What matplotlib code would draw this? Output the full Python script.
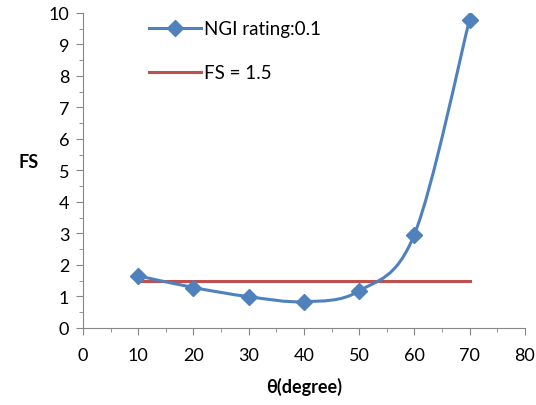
import numpy as np
import matplotlib
matplotlib.use("Agg")
import matplotlib.pyplot as plt
from matplotlib.path import Path
from matplotlib.patches import PathPatch
from matplotlib.lines import Line2D

theta = [10, 20, 30, 40, 50, 60, 70]
fs_values = [1.65, 1.28, 0.99, 0.83, 1.17, 2.96, 9.78]
fs_limit = 1.5
series_label = "NGI rating:0.1"
limit_label = "FS = 1.5"
xticks = [0, 10, 20, 30, 40, 50, 60, 70, 80]
yticks = list(range(0, 11))

plt.rcParams['font.family'] = ['Lato', 'DejaVu Sans']

fig = plt.figure(figsize=(5.36, 4.06), dpi=100)
ax = fig.add_axes([0.155, 0.19, 0.824, 0.776])

blue = '#4F81BD'
red = '#C0504D'

# Excel-style smoothed line (Catmull-Rom as cubic Bezier)
x = np.array(theta, float)
y = np.array(fs_values, float)
n = len(x)
verts = [(x[0], y[0])]
codes = [Path.MOVETO]
for i in range(n - 1):
    p0 = np.array([x[max(i - 1, 0)], y[max(i - 1, 0)]])
    p1 = np.array([x[i], y[i]])
    p2 = np.array([x[i + 1], y[i + 1]])
    p3 = np.array([x[min(i + 2, n - 1)], y[min(i + 2, n - 1)]])
    c1 = p1 + (p2 - p0) / 6.0
    c2 = p2 - (p3 - p1) / 6.0
    verts += [tuple(c1), tuple(c2), tuple(p2)]
    codes += [Path.CURVE4] * 3
ax.add_patch(PathPatch(Path(verts, codes), facecolor='none', edgecolor=blue, lw=2.2, zorder=3))
ax.plot(theta, fs_values, linestyle='none', marker='D', markersize=8, color=blue, zorder=4)

ax.plot([theta[0], theta[-1]], [fs_limit, fs_limit], color=red, lw=2.2, zorder=2)

ax.set_xlim(0, 80)
ax.set_ylim(0, 10)
ax.set_xticks(xticks)
ax.set_yticks(yticks)
ax.set_xticks(np.arange(0, 81, 5), minor=True)
ax.set_yticks(np.arange(0, 10.01, 0.5), minor=True)
ax.tick_params(axis='both', which='both', direction='out', color='#868686', labelsize=13)
ax.tick_params(axis='x', which='major', pad=9)
ax.tick_params(axis='y', which='major', pad=5)
ax.tick_params(which='major', length=5)
ax.tick_params(which='minor', length=3)
for s in ['top', 'right']:
    ax.spines[s].set_visible(False)
for s in ['left', 'bottom']:
    ax.spines[s].set_color('#868686')

ax.set_xlabel("θ(degree)", fontsize=13, fontweight='bold', labelpad=10)
ax.set_ylabel("FS", fontsize=13, fontweight='bold', rotation=0, labelpad=14)

handles = [Line2D([], [], color=blue, lw=2.2, marker='D', markersize=8),
           Line2D([], [], color=red, lw=2.2)]
ax.legend(handles, [series_label, limit_label], loc='upper left',
          bbox_to_anchor=(0.11, 1.03), frameon=False, fontsize=13.5,
          handlelength=2.8, labelspacing=1.45, handletextpad=0.15)

fig.savefig("out.png", dpi=100)
